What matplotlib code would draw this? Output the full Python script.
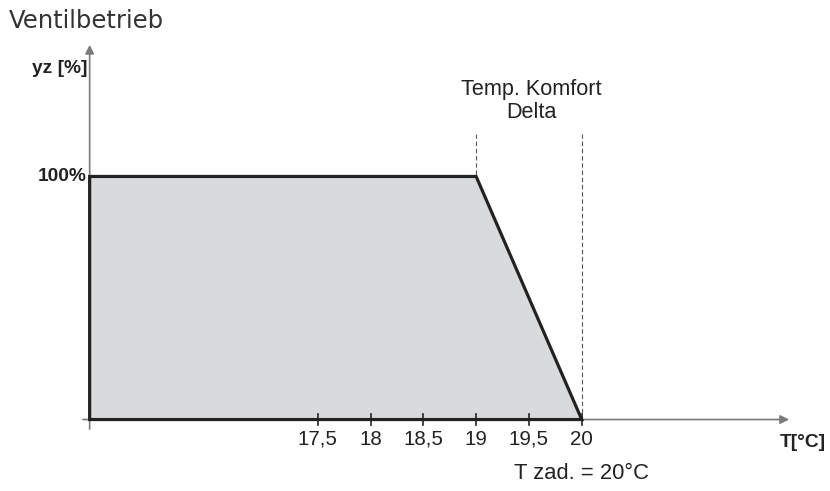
import matplotlib
matplotlib.use('Agg')
import matplotlib.pyplot as plt
from matplotlib.patches import Polygon

# data
temp_curve = [15.34, 19.0, 20.0, 15.34]
yz_curve = [100, 100, 0, 0]
tick_vals = [17.5, 18, 18.5, 19, 19.5, 20]
tick_labels = ['17,5', '18', '18,5', '19', '19,5', '20']
delta_lines = [19.0, 20.0]

fig = plt.figure(figsize=(8.3, 4.91), dpi=100)
ax = fig.add_axes([0, 0, 1, 1])
ax.set_xlim(14.491, 22.351)
ax.set_ylim(-29.4, 172.6)
ax.axis('off')

axis_col = '#7a7a7a'
# axes with arrows
ax.annotate('', xy=(21.99, 0), xytext=(15.25, 0),
            arrowprops=dict(arrowstyle='-|>', color=axis_col, lw=1.2, mutation_scale=13))
ax.annotate('', xy=(15.34, 155.3), xytext=(15.34, -5.1),
            arrowprops=dict(arrowstyle='-|>', color=axis_col, lw=1.2, mutation_scale=13))

# grey area
poly = Polygon(list(zip(temp_curve, yz_curve)), closed=True, facecolor='#d9dadb',
               edgecolor='#222222', lw=2.3, joinstyle='miter', zorder=3)
ax.add_patch(poly)

# dashed verticals
for t in delta_lines:
    ax.plot([t, t], [0, 117.5], color='#555555', lw=0.8, ls=(0, (4, 2.5)), zorder=2)

# ticks
for t, lab in zip(tick_vals, tick_labels):
    ax.plot([t, t], [-2.3, 2.3], color='#222222', lw=1.2, zorder=4)
    ax.text(t, -8.2, lab, ha='center', va='center', fontsize=14.8,
            family='Liberation Sans', color='#222222')

ax.text(15.31, 100, '100%', ha='right', va='center', fontsize=13.8, fontweight='bold',
        family='Liberation Sans', color='#222222')
ax.text(15.32, 144.5, 'yz [%]', ha='right', va='center', fontsize=13.8, fontweight='bold',
        family='Liberation Sans', color='#222222')
ax.text(22.31, -9.3, 'T[°C]', ha='right', va='center', fontsize=13.8, fontweight='bold',
        family='Liberation Sans', color='#222222')
ax.text(19.52, 131, 'Temp. Komfort\nDelta', ha='center', va='center', fontsize=15.6,
        family='Liberation Sans', color='#222222', linespacing=1.15)
ax.text(20.0, -22, 'T zad. = 20°C', ha='center', va='center', fontsize=15.8,
        family='Liberation Sans', color='#222222')
fig.text(9 / 830, 1 - 21 / 491, 'Ventilbetrieb', ha='left', va='center', fontsize=17.5,
         family='DejaVu Sans', color='#333333')

fig.savefig('out.png', dpi=100)
